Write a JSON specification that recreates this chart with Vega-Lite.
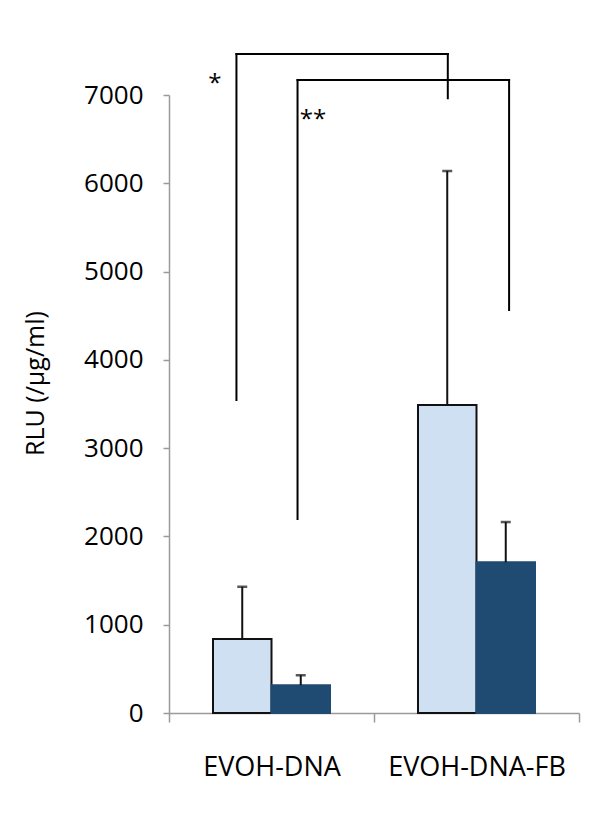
{
  "$schema": "https://vega.github.io/schema/vega-lite/v6.json",
  "autosize": {"type": "none"},
  "padding": {"left": 169, "top": 95, "right": 21, "bottom": 100},
  "width": 410,
  "height": 618,
  "background": "white",
  "config": {
    "view": {"stroke": null},
    "font": "Open Sans",
    "axis": {"grid": false, "domainColor": "#9a9a9a", "tickColor": "#9a9a9a", "domainWidth": 1.5, "tickWidth": 1.5, "labelColor": "#000000", "titleColor": "#000000", "labelFont": "Open Sans", "titleFont": "Open Sans"}
  },
  "datasets": {
    "bars": [
      {"group": "EVOH-DNA", "series": "s1", "value": 838, "upper": 1430},
      {"group": "EVOH-DNA", "series": "s2", "value": 315, "upper": 428},
      {"group": "EVOH-DNA-FB", "series": "s1", "value": 3489, "upper": 6139},
      {"group": "EVOH-DNA-FB", "series": "s2", "value": 1707, "upper": 2163}
    ],
    "brackets": [
      {"x": 0.329, "x2": 0.329, "y": 3545, "y2": 7464},
      {"x": 0.329, "x2": 1.360, "y": 7464, "y2": 7464},
      {"x": 1.360, "x2": 1.360, "y": 7464, "y2": 6963},
      {"x": 0.627, "x2": 0.627, "y": 2197, "y2": 7170},
      {"x": 0.627, "x2": 1.659, "y": 7170, "y2": 7170},
      {"x": 1.659, "x2": 1.659, "y": 7170, "y2": 4565}
    ],
    "stars": [
      {"x": 0.224, "y": 7050, "label": "*"},
      {"x": 0.702, "y": 6640, "label": "**"}
    ]
  },
  "layer": [
    {
      "data": {"name": "bars"},
      "encoding": {
        "x": {"field": "group", "type": "nominal", "sort": ["EVOH-DNA", "EVOH-DNA-FB"],
              "scale": {"paddingInner": 0, "paddingOuter": 0},
              "axis": {"title": null, "labelAngle": 0, "tickBand": "extent", "tickSize": 9, "labelFontSize": 27, "labelPadding": 32, "labelBaseline": "top"}},
        "xOffset": {"field": "series", "type": "nominal", "scale": {"domain": ["s1", "s2"], "paddingInner": 0, "paddingOuter": 0.752}}
      },
      "layer": [
        {
          "mark": {"type": "bar", "strokeWidth": 2},
          "encoding": {
            "y": {"field": "value", "type": "quantitative",
                  "scale": {"domain": [0, 7000], "nice": false},
                  "axis": {"values": [0, 1000, 2000, 3000, 4000, 5000, 6000, 7000], "format": "d", "tickSize": 6, "labelFontSize": 26, "labelPadding": 20, "title": "RLU (/μg/ml)", "titleFontSize": 25, "titleFontWeight": "normal", "titleX": -134, "titleY": 288, "titleAngle": 270, "titleBaseline": "middle", "titleAlign": "center"}},
            "color": {"field": "series", "type": "nominal", "scale": {"domain": ["s1", "s2"], "range": ["#CFE0F2", "#1F4A72"]}, "legend": null},
            "stroke": {"field": "series", "type": "nominal", "scale": {"domain": ["s1", "s2"], "range": ["#111111", "#1F4A72"]}, "legend": null}
          }
        },
        {
          "mark": {"type": "rule", "color": "#111111", "strokeWidth": 2},
          "encoding": {
            "y": {"field": "value", "type": "quantitative"},
            "y2": {"field": "upper"}
          }
        },
        {
          "mark": {"type": "tick", "color": "#111111", "size": 10, "thickness": 2.5, "orient": "horizontal"},
          "encoding": {
            "y": {"field": "upper", "type": "quantitative"}
          }
        }
      ]
    },
    {
      "layer": [
        {
          "data": {"name": "brackets"},
          "mark": {"type": "rule", "color": "#000000", "strokeWidth": 2, "strokeCap": "square"},
          "encoding": {
            "x": {"field": "x", "type": "quantitative", "scale": {"domain": [0, 2], "nice": false, "zero": false}, "axis": null},
            "x2": {"field": "x2"},
            "y": {"field": "y", "type": "quantitative"},
            "y2": {"field": "y2"}
          }
        },
        {
          "data": {"name": "stars"},
          "mark": {"type": "text", "fontSize": 24, "color": "#000000", "baseline": "alphabetic", "align": "center"},
          "encoding": {
            "x": {"field": "x", "type": "quantitative", "scale": {"domain": [0, 2], "nice": false, "zero": false}, "axis": null},
            "y": {"field": "y", "type": "quantitative"},
            "text": {"field": "label"}
          }
        }
      ]
    }
  ],
  "resolve": {"scale": {"x": "independent"}}
}
